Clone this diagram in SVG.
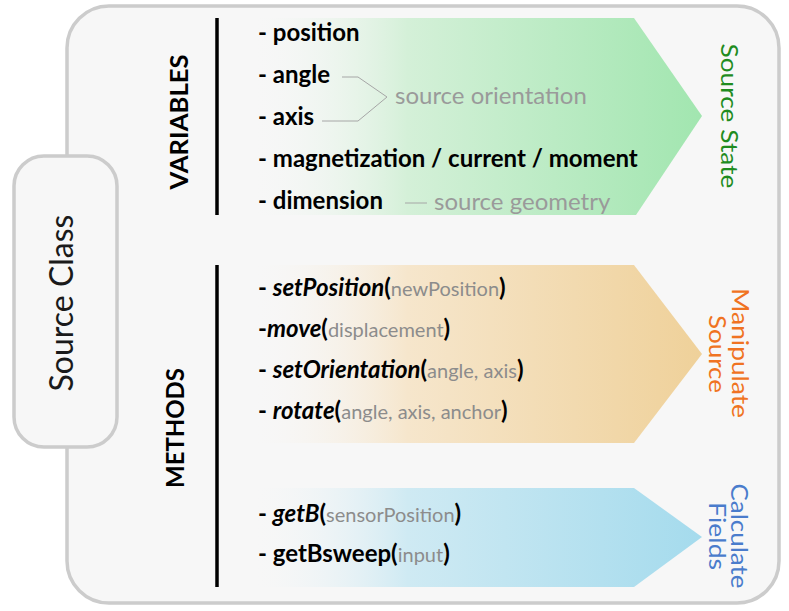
<svg xmlns="http://www.w3.org/2000/svg" width="789" height="611" viewBox="0 0 789 611">
<defs>
<linearGradient id="gGreen" gradientUnits="userSpaceOnUse" x1="250" y1="0" x2="700" y2="0">
<stop offset="0" stop-color="#f7f7f7" stop-opacity="0"/>
<stop offset="0.35" stop-color="#d4f0d8"/>
<stop offset="1" stop-color="#a2e6b0"/>
</linearGradient>
<linearGradient id="gOrange" gradientUnits="userSpaceOnUse" x1="250" y1="0" x2="700" y2="0">
<stop offset="0" stop-color="#f7f7f7" stop-opacity="0"/>
<stop offset="0.35" stop-color="#f6e6cc"/>
<stop offset="1" stop-color="#efd19a"/>
</linearGradient>
<linearGradient id="gBlue" gradientUnits="userSpaceOnUse" x1="250" y1="0" x2="700" y2="0">
<stop offset="0" stop-color="#f7f7f7" stop-opacity="0"/>
<stop offset="0.35" stop-color="#cfeaf3"/>
<stop offset="1" stop-color="#a5dbed"/>
</linearGradient>
<style>
.box{fill:#f7f7f7;stroke:#cccccc;stroke-width:3.5}
.bar{stroke:#000;stroke-width:3.5}
.t{font-family:Lato,"Open Sans",sans-serif;font-weight:bold;font-size:24px;fill:#000}
.p{font-weight:normal;font-style:normal;font-size:20px;fill:#8c8c8c}
.m{font-style:italic}
.g{font-family:Lato,"Open Sans",sans-serif;font-size:24px;fill:#9a9a9a}
.hdr{font-family:Lato,"Open Sans",sans-serif;font-weight:bold;font-size:25px;fill:#000}
.lab{font-family:Lato,"Open Sans",sans-serif;font-size:24px}
.thin{stroke:#a6a6a6;stroke-width:1;fill:none}
</style>
</defs>
<rect width="789" height="611" fill="#fff"/>
<g id="outer">
<rect class="box" x="67" y="6" width="712" height="597" rx="42" ry="42"/>
</g>
<g id="source-class">
<rect class="box" x="14" y="156" width="103" height="291" rx="30" ry="30"/>
<text transform="translate(73,303) rotate(-90)" text-anchor="middle" font-family="Lato,'Open Sans',sans-serif" font-size="32" fill="#1a1a1a">Source Class</text>
</g>
<g id="arrows">
<polygon points="255,18 634,18 702,116 636,215 255,215" fill="url(#gGreen)"/>
<polygon points="255,265 634,265 702,354 634,443 255,443" fill="url(#gOrange)"/>
<polygon points="255,488 634,488 702,537 634,587 255,587" fill="url(#gBlue)"/>
</g>
<g id="bars">
<line class="bar" x1="217" y1="18" x2="217" y2="215"/>
<line class="bar" x1="217" y1="265" x2="217" y2="587"/>
</g>
<g id="variables">
<text class="hdr" transform="translate(188,122) rotate(-90)" text-anchor="middle" textLength="135" lengthAdjust="spacingAndGlyphs">VARIABLES</text>
<text class="t" x="258" y="41">- position</text>
<text class="t" x="258" y="83">- angle</text>
<text class="t" x="258" y="125">- axis</text>
<text class="t" x="258" y="167">- magnetization / current / moment</text>
<text class="t" x="258" y="209">- dimension</text>
<polyline class="thin" points="342,77 358,77 387,97 358,121 322,121"/>
<text class="g" x="395" y="104">source orientation</text>
<line class="thin" x1="405" y1="203" x2="427" y2="203"/>
<text class="g" x="434" y="210">source geometry</text>
</g>
<g id="methods">
<text class="hdr" transform="translate(184,428) rotate(-90)" text-anchor="middle" textLength="120" lengthAdjust="spacingAndGlyphs">METHODS</text>
<text class="t" x="258" y="296">- <tspan class="m">setPosition</tspan>(<tspan class="p">newPosition</tspan>)</text>
<text class="t" x="258" y="337">-<tspan class="m">move</tspan>(<tspan class="p">displacement</tspan>)</text>
<text class="t" x="258" y="378">- <tspan class="m">setOrientation</tspan>(<tspan class="p">angle, axis</tspan>)</text>
<text class="t" x="258" y="419">- <tspan class="m">rotate</tspan>(<tspan class="p">angle, axis, anchor</tspan>)</text>
<text class="t" x="258" y="522">- <tspan class="m">getB</tspan>(<tspan class="p">sensorPosition</tspan>)</text>
<text class="t" x="258" y="562">- getBsweep(<tspan class="p">input</tspan>)</text>
</g>
<g id="labels">
<text class="lab" transform="translate(721,116) rotate(90)" text-anchor="middle" fill="#1f8c1f" font-size="26" textLength="145" lengthAdjust="spacingAndGlyphs">Source State</text>
<text class="lab" transform="translate(732,353) rotate(90)" text-anchor="middle" fill="#f07322" textLength="130" lengthAdjust="spacingAndGlyphs">Manipulate</text>
<text class="lab" transform="translate(709,354) rotate(90)" text-anchor="middle" fill="#f07322" textLength="78" lengthAdjust="spacingAndGlyphs">Source</text>
<text class="lab" transform="translate(731,536) rotate(90)" text-anchor="middle" fill="#4a7ccc" textLength="105" lengthAdjust="spacingAndGlyphs">Calculate</text>
<text class="lab" transform="translate(709,536) rotate(90)" text-anchor="middle" fill="#4a7ccc" textLength="68" lengthAdjust="spacingAndGlyphs">Fields</text>
</g>
</svg>
